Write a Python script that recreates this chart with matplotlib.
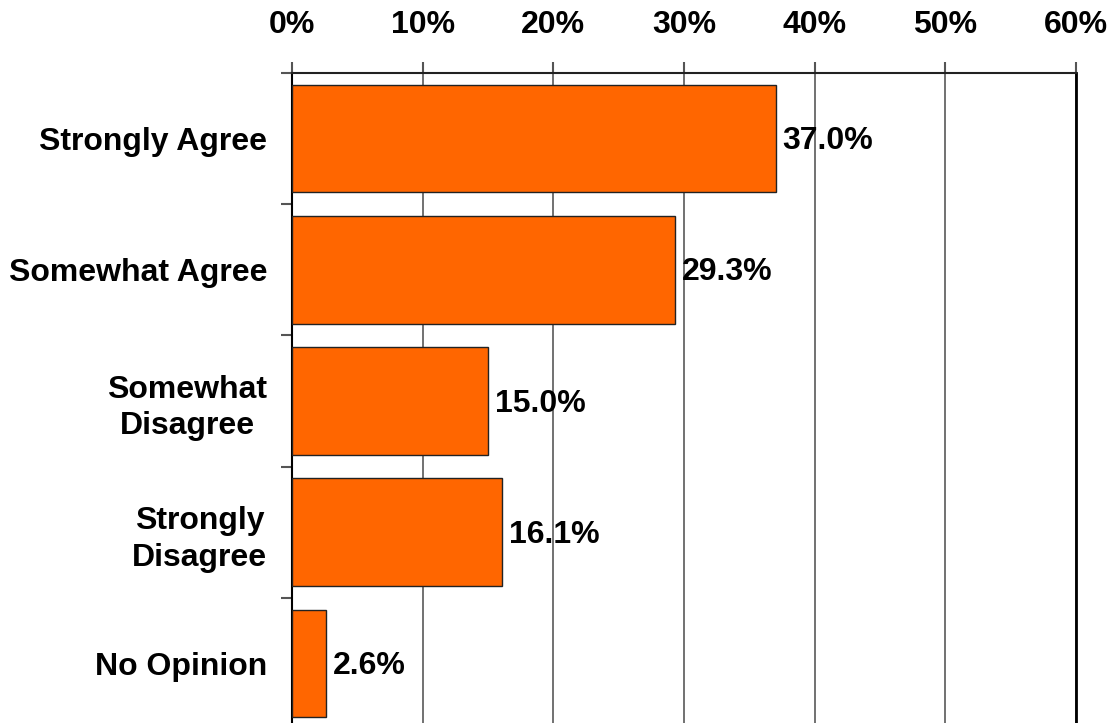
import matplotlib.pyplot as plt
import numpy as np
from matplotlib.ticker import FuncFormatter

categories = ["Strongly Agree", "Somewhat Agree", "Somewhat\nDisagree", "Strongly\nDisagree", "No Opinion"]
values = [37.0, 29.3, 15.0, 16.1, 2.6]
xticks = [0, 10, 20, 30, 40, 50, 60]

plt.rcParams["font.family"] = ["Liberation Sans", "DejaVu Sans"]
plt.rcParams["font.weight"] = "bold"

fig = plt.figure(figsize=(11.15, 7.23), dpi=100)
ax = fig.add_axes([0.2619, -0.0083, 0.7032, 0.9073])

y = np.arange(len(categories))
ax.barh(y, values, height=0.82, color="#FF6600", edgecolor="#222222", linewidth=1, zorder=3)

for yi, v in zip(y, values):
    ax.text(v + 0.5, yi + 0.02, f"{v:.1f}%", va="center", ha="left", fontsize=23,
            fontweight="bold", zorder=4)

ax.set_xlim(0, 60)
ax.set_ylim(len(categories) - 0.5, -0.5)
ax.set_xticks(xticks)
ax.xaxis.set_major_formatter(FuncFormatter(lambda v, p: f"{v:.0f}%"))
ax.xaxis.tick_top()
ax.tick_params(axis="x", direction="out", length=8, width=1.5, color="#555555",
               labelsize=23, pad=16)
ax.grid(axis="x", color="#4a4a4a", linewidth=1.1, zorder=1)

ax.set_yticks(y)
ax.set_yticklabels(categories, fontsize=23, fontweight="bold", multialignment="center",
                   linespacing=1.3)
ax.set_yticks(np.arange(len(categories) + 1) - 0.5, minor=True)
ax.tick_params(axis="y", which="major", length=0, pad=18)
ax.tick_params(axis="y", which="minor", direction="out", length=8, width=1.5, color="#555555")

ax.spines["bottom"].set_visible(False)
ax.spines["top"].set_color("#222222")
ax.spines["top"].set_linewidth(1.5)
ax.spines["left"].set_color("#000000")
ax.spines["left"].set_linewidth(1.5)
ax.spines["right"].set_color("#000000")
ax.spines["right"].set_linewidth(2)

for lbl in ax.get_xticklabels():
    lbl.set_fontweight("bold")

plt.savefig("out.png", dpi=100)
plt.close()
